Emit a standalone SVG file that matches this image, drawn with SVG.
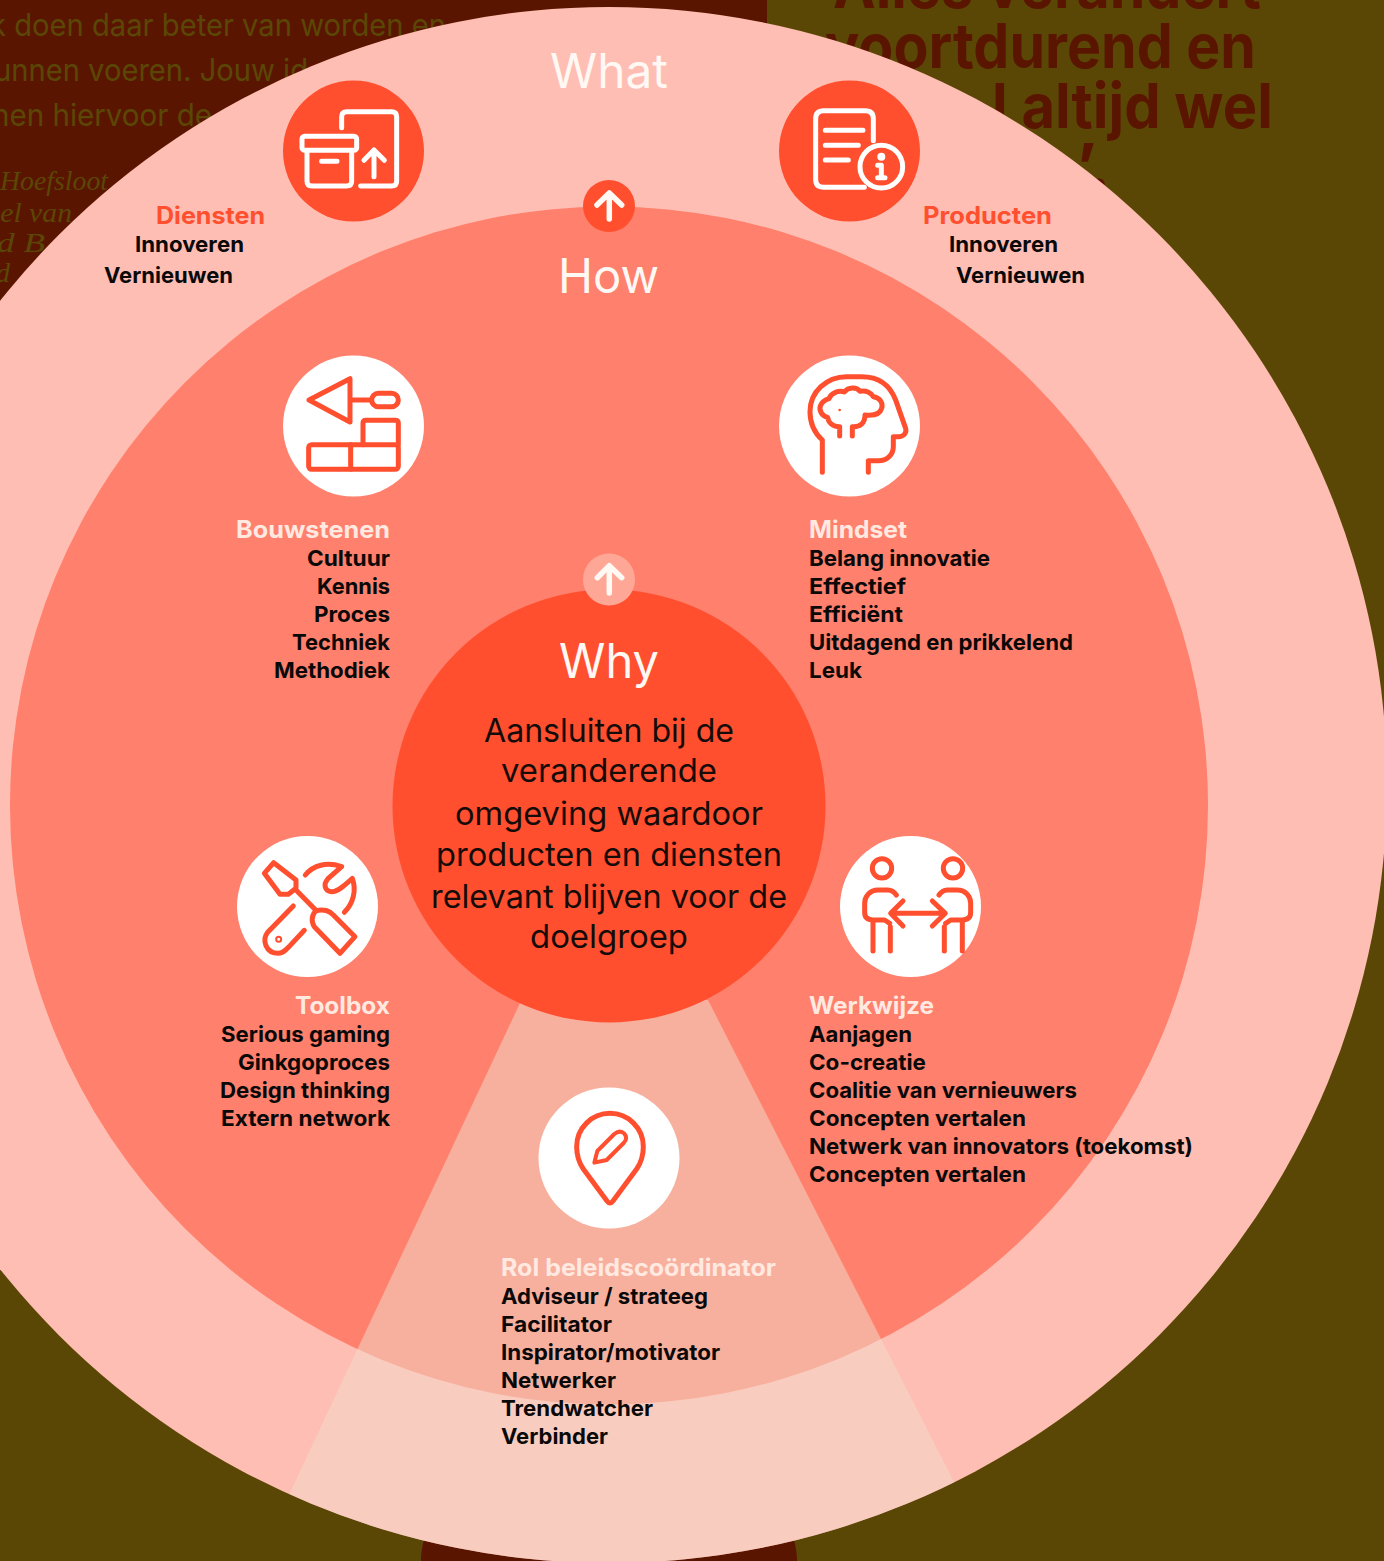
<svg xmlns="http://www.w3.org/2000/svg" width="1384" height="1561" viewBox="0 0 1384 1561">
<style>
text{font-family:"Inter","Liberation Sans",sans-serif}
.bg{font-size:31px;font-weight:400;fill:#5B4705}
.hl{font-size:62px;font-weight:700;fill:#5A1500}
.sig{font-family:"Liberation Serif",serif;font-style:italic;font-size:28px;fill:#5B4705}
.big{font-size:48px;font-weight:400;fill:#FFF8F3}
.why{font-size:32px;font-weight:400;fill:#150B08}
.t{font-size:24px;font-weight:700}
.tr{fill:#FF4F2F}
.tw{fill:#FFE9E0}
.b{font-size:22px;font-weight:700;fill:#0A0908}
.ic{fill:none;stroke-width:15;stroke-linecap:round;stroke-linejoin:round}
.o{stroke:#FF4F2F}
.w{stroke:#FFFFFF}
.ar{fill:none;stroke:#FFF8F3;stroke-width:5.5;stroke-linecap:round;stroke-linejoin:round}
</style>
<defs>
<clipPath id="outerClip"><circle cx="609" cy="785" r="778"/></clipPath>
</defs>
<g id="background">
<rect width="1384" height="1561" fill="#5B4705"/>
<rect width="767" height="700" fill="#5A1500"/>
<path d="M421 1561C421 1550 423 1545 426 1530L792 1530C795 1545 797 1550 797 1561Z" fill="#5A1500"/>
<text class="bg" x="-10" y="36" textLength="456" lengthAdjust="spacingAndGlyphs">k doen daar beter van worden en</text>
<text class="bg" x="-6" y="81" textLength="314" lengthAdjust="spacingAndGlyphs">unnen voeren. Jouw id</text>
<text class="bg" x="-8" y="126" textLength="220" lengthAdjust="spacingAndGlyphs">nen hiervoor de</text>
<text class="sig" x="0" y="190" textLength="108" lengthAdjust="spacingAndGlyphs">Hoefsloot</text>
<text class="sig" x="-8" y="222" textLength="80" lengthAdjust="spacingAndGlyphs">iel van</text>
<text class="sig" x="-3" y="252" textLength="48" lengthAdjust="spacingAndGlyphs">d B</text>
<text class="sig" x="-4" y="282">d</text>
<text class="hl" x="833" y="8" textLength="428" lengthAdjust="spacingAndGlyphs">Alles verandert</text>
<text class="hl" x="825" y="68" textLength="431" lengthAdjust="spacingAndGlyphs">voortdurend en</text>
<text class="hl" x="992" y="128" textLength="281" lengthAdjust="spacingAndGlyphs">l altijd wel</text>
<text class="hl" x="1076" y="188" textLength="34" lengthAdjust="spacingAndGlyphs">’.</text>
</g>
<g id="rings">
<circle id="ring-what" cx="609" cy="785" r="778" fill="#FFBEB3"/>
<circle id="ring-how" cx="609" cy="805.5" r="599" fill="#FF806C"/>
<path id="wedge" d="M520 1003L249 1580H1004L708 1000Z" fill="#F2DBCC" fill-opacity=".525" clip-path="url(#outerClip)"/>
<circle id="ring-why" cx="609" cy="806" r="216.5" fill="#FF4F2F"/>
</g>
<g id="connectors">
<circle cx="609" cy="206" r="26" fill="#FF4F2F"/>
<path class="ar" d="M609.3 219V193.5M597 205L609.3 193L621.7 205"/>
<circle cx="609" cy="579.5" r="26" fill="#FFA796"/>
<path class="ar" d="M609.3 593V566M597.3 577.7L609.3 565.7L621.7 577.7"/>
</g>
<g id="what-label"><text class="big" x="550" y="88" textLength="118" lengthAdjust="spacingAndGlyphs">What</text></g>
<g id="how-label"><text class="big" x="558" y="293" textLength="101" lengthAdjust="spacingAndGlyphs">How</text></g>
<g id="why">
<text class="big" x="559" y="678" textLength="100" lengthAdjust="spacingAndGlyphs">Why</text>
<text class="why" x="484" y="742" textLength="250" lengthAdjust="spacingAndGlyphs">Aansluiten bij de</text>
<text class="why" x="501" y="782" textLength="216" lengthAdjust="spacingAndGlyphs">veranderende</text>
<text class="why" x="455" y="825" textLength="308" lengthAdjust="spacingAndGlyphs">omgeving waardoor</text>
<text class="why" x="436" y="866" textLength="346" lengthAdjust="spacingAndGlyphs">producten en diensten</text>
<text class="why" x="431" y="908" textLength="356" lengthAdjust="spacingAndGlyphs">relevant blijven voor de</text>
<text class="why" x="530" y="948" textLength="158" lengthAdjust="spacingAndGlyphs">doelgroep</text>
</g>
<g id="diensten">
<circle cx="353.5" cy="151" r="70.5" fill="#FF4F2F"/>
<g transform="translate(270 70) scale(.3333)" class="ic w">
<path d="M215 173V140Q215 125 230 125H365Q380 125 380 140V333Q380 348 365 348H272"/>
<rect x="96" y="199" width="164" height="42" rx="8"/>
<path d="M111 243V333Q111 348 126 348H230Q245 348 245 333V243M155 274H201"/>
<path d="M312 320V240M282 271L312 240L343 271"/>
</g>
<text class="t tr" x="156" y="224" textLength="109" lengthAdjust="spacingAndGlyphs">Diensten</text>
<text class="b" x="135" y="252" textLength="109" lengthAdjust="spacingAndGlyphs">Innoveren</text>
<text class="b" x="104" y="283" textLength="129" lengthAdjust="spacingAndGlyphs">Vernieuwen</text>
</g>
<g id="producten">
<circle cx="849.5" cy="151" r="70.5" fill="#FF4F2F"/>
<g transform="translate(765 70) scale(.3333)" class="ic w">
<path d="M325 212V146Q325 122 301 122H176Q152 122 152 146V328Q152 352 176 352H298"/>
<path d="M181 181H294M181 226H280M181 270H250"/>
<circle cx="349" cy="290" r="64"/>
<circle cx="349" cy="260" r="6" stroke-width="12" fill="#FFF"/>
<path d="M338 286H349V322M338 323H360" stroke-width="15"/>
</g>
<text class="t tr" x="923" y="224" textLength="129" lengthAdjust="spacingAndGlyphs">Producten</text>
<text class="b" x="949" y="252" textLength="109" lengthAdjust="spacingAndGlyphs">Innoveren</text>
<text class="b" x="956" y="283" textLength="129" lengthAdjust="spacingAndGlyphs">Vernieuwen</text>
</g>
<g id="bouwstenen">
<circle cx="353.5" cy="426" r="70.5" fill="#FFFFFF"/>
<g transform="translate(270 340) scale(.3333)" class="ic o">
<path d="M117 180L240 116V246ZM245 180H305"/>
<rect x="305" y="160" width="80" height="40" rx="20"/>
<path d="M279 314V250Q279 241 288 241H376Q385 241 385 250V314"/>
<rect x="116" y="314" width="269" height="74" rx="9"/>
<path d="M242 314V388"/>
</g>
<text class="t tw" x="236" y="538" textLength="154" lengthAdjust="spacingAndGlyphs">Bouwstenen</text>
<text class="b" x="307" y="566" textLength="83" lengthAdjust="spacingAndGlyphs">Cultuur</text>
<text class="b" x="317" y="594" textLength="73" lengthAdjust="spacingAndGlyphs">Kennis</text>
<text class="b" x="314" y="622" textLength="76" lengthAdjust="spacingAndGlyphs">Proces</text>
<text class="b" x="292" y="650" textLength="98" lengthAdjust="spacingAndGlyphs">Techniek</text>
<text class="b" x="274" y="678" textLength="116" lengthAdjust="spacingAndGlyphs">Methodiek</text>
</g>
<g id="mindset">
<circle cx="849.5" cy="426" r="70.5" fill="#FFFFFF"/>
<g transform="translate(765 340) scale(.3333)" class="ic o">
<path d="M172 397V300C150 280 135 250 135 215C135 155 185 110 245 110H290C340 110 375 135 392 180L422 265C426 280 415 290 400 290H385V320C385 345 365 362 340 362H310V397"/>
<path d="M224 288V260C205 260 190 250 188 232C170 228 162 212 166 198C170 185 180 180 192 176C198 158 222 150 238 156C250 140 275 140 285 154C305 150 320 160 325 170C345 172 355 190 350 205C345 222 325 228 300 225C300 250 285 262 262 260V288"/>
<circle cx="224" cy="210" r="2" stroke-width="4"/>
</g>
<text class="t tw" x="809" y="538" textLength="98" lengthAdjust="spacingAndGlyphs">Mindset</text>
<text class="b" x="809" y="566" textLength="181" lengthAdjust="spacingAndGlyphs">Belang innovatie</text>
<text class="b" x="809" y="594" textLength="97" lengthAdjust="spacingAndGlyphs">Effectief</text>
<text class="b" x="809" y="622" textLength="94" lengthAdjust="spacingAndGlyphs">Efficiënt</text>
<text class="b" x="809" y="650" textLength="264" lengthAdjust="spacingAndGlyphs">Uitdagend en prikkelend</text>
<text class="b" x="809" y="678" textLength="53" lengthAdjust="spacingAndGlyphs">Leuk</text>
</g>
<g id="toolbox">
<circle cx="307.5" cy="906.5" r="70.5" fill="#FFFFFF"/>
<g transform="translate(225 825) scale(.3333)" class="ic o">
<path d="M146 113L213 165V190L190 208H165L118 145ZM213 195L272 255"/>
<path d="M272 258C295 250 315 258 325 270L390 335L345 385L268 305C258 290 260 270 272 258Z"/>
<path d="M241 150C265 120 305 110 350 125L308 162C295 178 298 198 320 200C340 200 360 180 382 160C395 195 385 235 358 262"/>
<path d="M205 243L128 322C110 345 122 385 160 385C175 385 182 375 195 362L238 316"/>
<circle cx="161" cy="343" r="3"/>
</g>
<text class="t tw" x="295" y="1014" textLength="95" lengthAdjust="spacingAndGlyphs">Toolbox</text>
<text class="b" x="221" y="1042" textLength="169" lengthAdjust="spacingAndGlyphs">Serious gaming</text>
<text class="b" x="238" y="1070" textLength="152" lengthAdjust="spacingAndGlyphs">Ginkgoproces</text>
<text class="b" x="220" y="1098" textLength="170" lengthAdjust="spacingAndGlyphs">Design thinking</text>
<text class="b" x="221" y="1126" textLength="169" lengthAdjust="spacingAndGlyphs">Extern network</text>
</g>
<g id="werkwijze">
<circle cx="910.5" cy="906.5" r="70.5" fill="#FFFFFF"/>
<g transform="translate(828 825) scale(.3333)" class="ic o">
<circle cx="162" cy="130" r="29"/>
<circle cx="375" cy="130" r="29"/>
<path d="M205 210C198 200 190 195 180 195H150C125 195 110 215 110 235V262C110 278 120 285 135 285H170L185 295"/>
<path d="M135 290V378M187 305V378"/>
<path d="M333 210C340 200 348 195 358 195H388C413 195 428 215 428 235V262C428 278 418 285 403 285H368L353 295"/>
<path d="M349 305V378M403 290V378"/>
<path d="M190 265H350M225 228L188 265L225 303M313 228L352 265L313 303"/>
</g>
<text class="t tw" x="809" y="1014" textLength="125" lengthAdjust="spacingAndGlyphs">Werkwijze</text>
<text class="b" x="809" y="1042" textLength="103" lengthAdjust="spacingAndGlyphs">Aanjagen</text>
<text class="b" x="809" y="1070" textLength="117" lengthAdjust="spacingAndGlyphs">Co-creatie</text>
<text class="b" x="809" y="1098" textLength="268" lengthAdjust="spacingAndGlyphs">Coalitie van vernieuwers</text>
<text class="b" x="809" y="1126" textLength="217" lengthAdjust="spacingAndGlyphs">Concepten vertalen</text>
<text class="b" x="809" y="1154" textLength="384" lengthAdjust="spacingAndGlyphs">Netwerk van innovators (toekomst)</text>
<text class="b" x="809" y="1182" textLength="217" lengthAdjust="spacingAndGlyphs">Concepten vertalen</text>
</g>
<g id="rol">
<circle cx="609" cy="1158" r="70.5" fill="#FFFFFF"/>
<g transform="translate(525 1075) scale(.3333)" class="ic o">
<path d="M246 378L175 282C160 260 155 235 155 215C155 160 200 115 255 115C310 115 355 160 355 215C355 235 350 260 335 282L264 378Q255 390 246 378Z"/>
<path d="M208 263L217 228L268 177Q285 163 298 176Q310 190 296 204L245 255Z" stroke-width="12"/>
<circle cx="285" cy="187" r="3" stroke="#FFFFFF" stroke-width="5"/>
</g>
<text class="t tw" x="501" y="1276" textLength="275" lengthAdjust="spacingAndGlyphs">Rol beleidscoördinator</text>
<text class="b" x="501" y="1304" textLength="207" lengthAdjust="spacingAndGlyphs">Adviseur / strateeg</text>
<text class="b" x="501" y="1332" textLength="111" lengthAdjust="spacingAndGlyphs">Facilitator</text>
<text class="b" x="501" y="1360" textLength="219" lengthAdjust="spacingAndGlyphs">Inspirator/motivator</text>
<text class="b" x="501" y="1388" textLength="115" lengthAdjust="spacingAndGlyphs">Netwerker</text>
<text class="b" x="501" y="1416" textLength="152" lengthAdjust="spacingAndGlyphs">Trendwatcher</text>
<text class="b" x="501" y="1444" textLength="107" lengthAdjust="spacingAndGlyphs">Verbinder</text>
</g>
</svg>
